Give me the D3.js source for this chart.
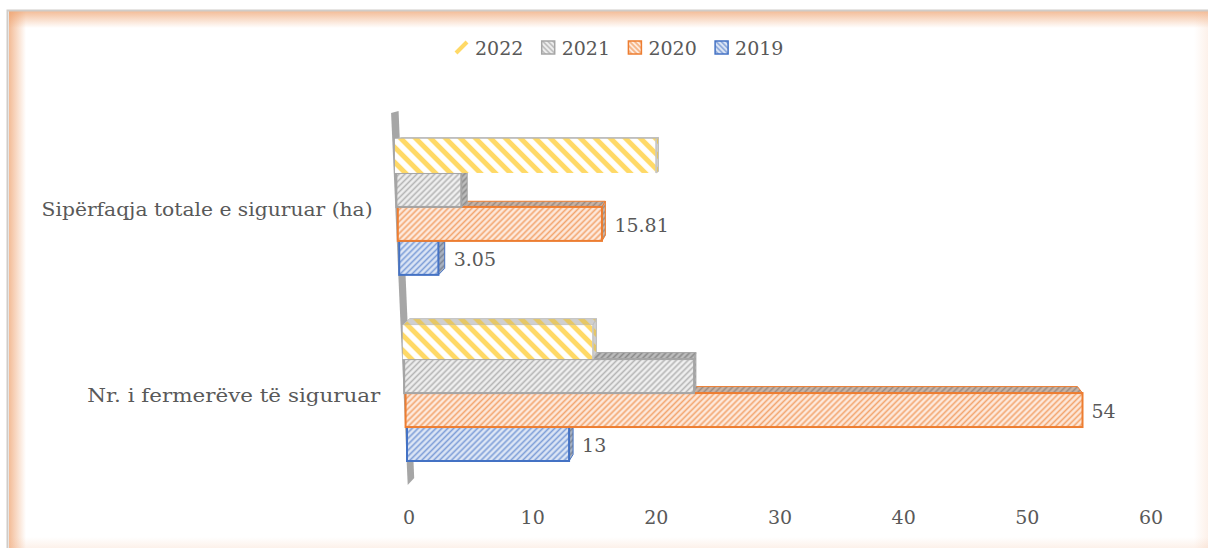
<!DOCTYPE html>
<html>
<head>
<meta charset="utf-8">
<script src="https://cdn.jsdelivr.net/npm/d3@7"></script>
<style>
  html, body { margin: 0; padding: 0; background: #ffffff; }
  svg { display: block; }
</style>
</head>
<body>
<svg id="chart" width="1208" height="548"></svg>
<script>
// ---------- data ----------
const categories = ["Sipërfaqja totale e siguruar (ha)", "Nr. i fermerëve të siguruar"];
const seriesNames = ["2022", "2021", "2020", "2019"];
const values2022 = [20, 15];
const values2021 = [5, 23];
const values2020 = [15.81, 54];
const values2019 = [3.05, 13];
const labelled = ["2020", "2019"];
const tickValues = [0, 10, 20, 30, 40, 50, 60];

const seriesValues = { "2022": values2022, "2021": values2021, "2020": values2020, "2019": values2019 };

const FONT = "'DejaVu Serif', serif";
const FS = 19;
const TXT = "#595959";

// ---------- styles ----------
const styles = {
  "2022": { angle: -45, sp: 10.6, lw: 5,   fg: "#FFD966", bg: "#ffffff", tfg: "#e6c765", tbg: "#cfcfcf", stroke: "none",    tstroke: "#bfbfbf" },
  "2021": { angle: 45,  sp: 4.2,  lw: 1.6, fg: "#b5b5b5", bg: "#efefef", tfg: "#8a8a8a", tbg: "#bcbcbc", stroke: "#A5A5A5", tstroke: "#A5A5A5" },
  "2020": { angle: 45,  sp: 4.2,  lw: 1.6, fg: "#f3a66f", bg: "#fde9dc", tfg: "#9b8c82", tbg: "#c8b4a7", stroke: "#ED7D31", tstroke: "#ED7D31" },
  "2019": { angle: 45,  sp: 4.2,  lw: 1.6, fg: "#7f9fd8", bg: "#dde6f5", tfg: "#7c8596", tbg: "#aab3c2", stroke: "#4472C4", tstroke: "#4472C4" }
};

const svg = d3.select("#chart").attr("font-family", FONT);
const defs = svg.append("defs");

function hatch(id, angle, sp, lw, fg, bg) {
  const p = defs.append("pattern")
    .attr("id", id).attr("patternUnits", "userSpaceOnUse")
    .attr("width", sp).attr("height", sp)
    .attr("patternTransform", `rotate(${angle})`);
  p.append("rect").attr("width", sp).attr("height", sp).attr("fill", bg);
  p.append("line").attr("x1", sp / 2).attr("y1", -1).attr("x2", sp / 2).attr("y2", sp + 1)
    .attr("stroke", fg).attr("stroke-width", lw);
}
seriesNames.forEach(s => {
  const st = styles[s];
  hatch("f" + s, st.angle, st.sp, st.lw, st.fg, st.bg);
  hatch("t" + s, st.angle, st.sp, st.lw, st.tfg, st.tbg);
  hatch("l" + s, -45, 3.6, 1.4, st.fg, st.bg);
});

// ---------- frame ----------
function glow(id, x1, y1, x2, y2, color, op) {
  const g = defs.append("linearGradient").attr("id", id)
    .attr("x1", x1).attr("y1", y1).attr("x2", x2).attr("y2", y2);
  g.append("stop").attr("offset", "0").attr("stop-color", color).attr("stop-opacity", op);
  g.append("stop").attr("offset", "1").attr("stop-color", color).attr("stop-opacity", 0);
}
glow("gL", 0, 0, 1, 0, "#ee9f6a", 0.7);
glow("gT", 0, 0, 0, 1, "#ee9f6a", 0.7);
glow("gR", 1, 0, 0, 0, "#f2b995", 0.2);
glow("gB", 0, 1, 0, 0, "#f2b995", 0.2);
svg.append("rect").attr("x", 9).attr("y", 11).attr("width", 17).attr("height", 537).attr("fill", "url(#gL)");
svg.append("rect").attr("x", 9).attr("y", 11).attr("width", 1199).attr("height", 17).attr("fill", "url(#gT)");
svg.append("rect").attr("x", 1194).attr("y", 11).attr("width", 14).attr("height", 537).attr("fill", "url(#gR)");
svg.append("rect").attr("x", 9).attr("y", 537).attr("width", 1199).attr("height", 11).attr("fill", "url(#gB)");
svg.append("path").attr("d", "M7.5,548 V10.5 H1208").attr("fill", "none").attr("stroke", "#d0ccc8").attr("stroke-width", 2);

// ---------- scales ----------
const y = d3.scaleBand().domain(categories).range([139, 461]).paddingInner(0.27).paddingOuter(0);
const ySeries = d3.scaleBand().domain(seriesNames).range([0, y.bandwidth()]).padding(0);
// perspective: zero line and 60 line drift with vertical position
const zeroAt = d3.scaleLinear().domain([157, 444]).range([395, 407]);
const sixtyAt = d3.scaleLinear().domain([157, 444]).range([1178, 1155]);
const xAt = yc => d3.scaleLinear().domain([0, 60]).range([zeroAt(yc), sixtyAt(yc)]);
const xAxisScale = d3.scaleLinear().domain([0, 60]).range([408.5, 1150.5]);
const depthY = d3.scaleLinear().domain([140, 220]).range([1.5, 6.5]).clamp(true);
const depthX = d3.scaleLinear().domain([400, 1080]).range([7, -5]);

// ---------- back wall (axis) ----------
const wallTop = 111, wallBot = 485;
svg.append("polygon")
  .attr("points", [
    [zeroAt(wallTop) - 2, wallTop + 2], [zeroAt(wallTop) + 5.5, wallTop],
    [zeroAt(wallBot) + 5.5, wallBot - 7], [zeroAt(wallBot) - 1, wallBot]
  ].map(p => p.join(",")).join(" "))
  .attr("fill", "#a6a6a6");

// ---------- bars ----------
const bars = svg.append("g");
const labelLayer = svg.append("g");
const drawOrder = seriesNames.slice().reverse(); // bottom bar first
categories.forEach((cat, ci) => {
  drawOrder.forEach(s => {
    const st = styles[s];
    const v = seriesValues[s][ci];
    const yTop = y(cat) + ySeries(s);
    const h = ySeries.bandwidth();
    const yc = yTop + h / 2;
    const xs = xAt(yc);
    const xl = xs(0), xr = xs(v);
    const dy = depthY(yTop);
    const dxr = depthX(xr);
    const dxl = depthX(xl);
    const g = bars.append("g");
    g.append("polygon")
      .attr("points", [[xl, yTop], [xr, yTop], [xr + dxr, yTop - dy], [xl + dxl, yTop - dy]].map(p => p.join(",")).join(" "))
      .attr("fill", `url(#t${s})`).attr("stroke", st.tstroke).attr("stroke-width", 1);
    if (dxr > 0) {
      g.append("polygon")
        .attr("points", [[xr, yTop], [xr + dxr, yTop - dy], [xr + dxr, yTop + h - dy], [xr, yTop + h]].map(p => p.join(",")).join(" "))
        .attr("fill", `url(#t${s})`).attr("stroke", st.tstroke).attr("stroke-width", 1);
    }
    g.append("rect")
      .attr("x", xl).attr("y", yTop).attr("width", xr - xl).attr("height", h)
      .attr("fill", `url(#f${s})`)
      .attr("stroke", st.stroke).attr("stroke-width", s === "2022" ? 0 : 2);
    if (s === "2022") {
      g.append("line").attr("x1", xr).attr("x2", xr).attr("y1", yTop).attr("y2", yTop + h)
        .attr("stroke", "#c8c8c8").attr("stroke-width", 1.5);
    }
    if (labelled.includes(s)) {
      labelLayer.append("text")
        .attr("x", xr + Math.max(dxr, 0) + 9)
        .attr("y", yc + 8)
        .attr("font-family", FONT).attr("fill", TXT)
        .attr("font-size", FS)
        .text(String(v));
    }
  });
});
labelLayer.raise();

// ---------- category labels ----------
const catWidths = [331, 293];
categories.forEach((cat, i) => {
  const yc = y(cat) + y.bandwidth() / 2;
  svg.append("text")
    .attr("x", zeroAt(yc) - 24.5)
    .attr("y", yc + 9)
    .attr("text-anchor", "end")
    .attr("font-family", FONT).attr("fill", TXT)
    .attr("font-size", FS)
    .attr("textLength", catWidths[i])
    .attr("lengthAdjust", "spacingAndGlyphs")
    .text(cat);
});

// ---------- x axis ----------
const axis = svg.append("g").attr("transform", "translate(0,509)")
  .call(d3.axisBottom(xAxisScale).tickValues(tickValues).tickSize(0).tickPadding(0).tickFormat(d3.format("d")));
axis.attr("font-family", FONT);
axis.select(".domain").remove();
axis.selectAll("text").attr("font-size", FS).attr("fill", TXT)
  .attr("font-family", FONT).attr("dy", "0.78em");

// ---------- legend ----------
const legend = svg.append("g");
const legendX = d3.scaleLinear().domain([0, 1]).range([455, 541.7]);
seriesNames.forEach((s, i) => {
  const st = styles[s];
  const gx = legendX(i);
  if (s === "2022") {
    legend.append("line").attr("x1", gx + 1).attr("y1", 53).attr("x2", gx + 12).attr("y2", 42)
      .attr("stroke", st.fg).attr("stroke-width", 4);
  } else {
    legend.append("rect").attr("x", gx).attr("y", 41).attr("width", 13).attr("height", 13)
      .attr("fill", `url(#l${s})`).attr("stroke", st.stroke).attr("stroke-width", 1.5);
  }
  legend.append("text").attr("x", gx + 20).attr("y", 55)
    .attr("font-family", FONT).attr("fill", TXT)
    .attr("font-size", FS).text(s);
});
</script>
</body>
</html>
